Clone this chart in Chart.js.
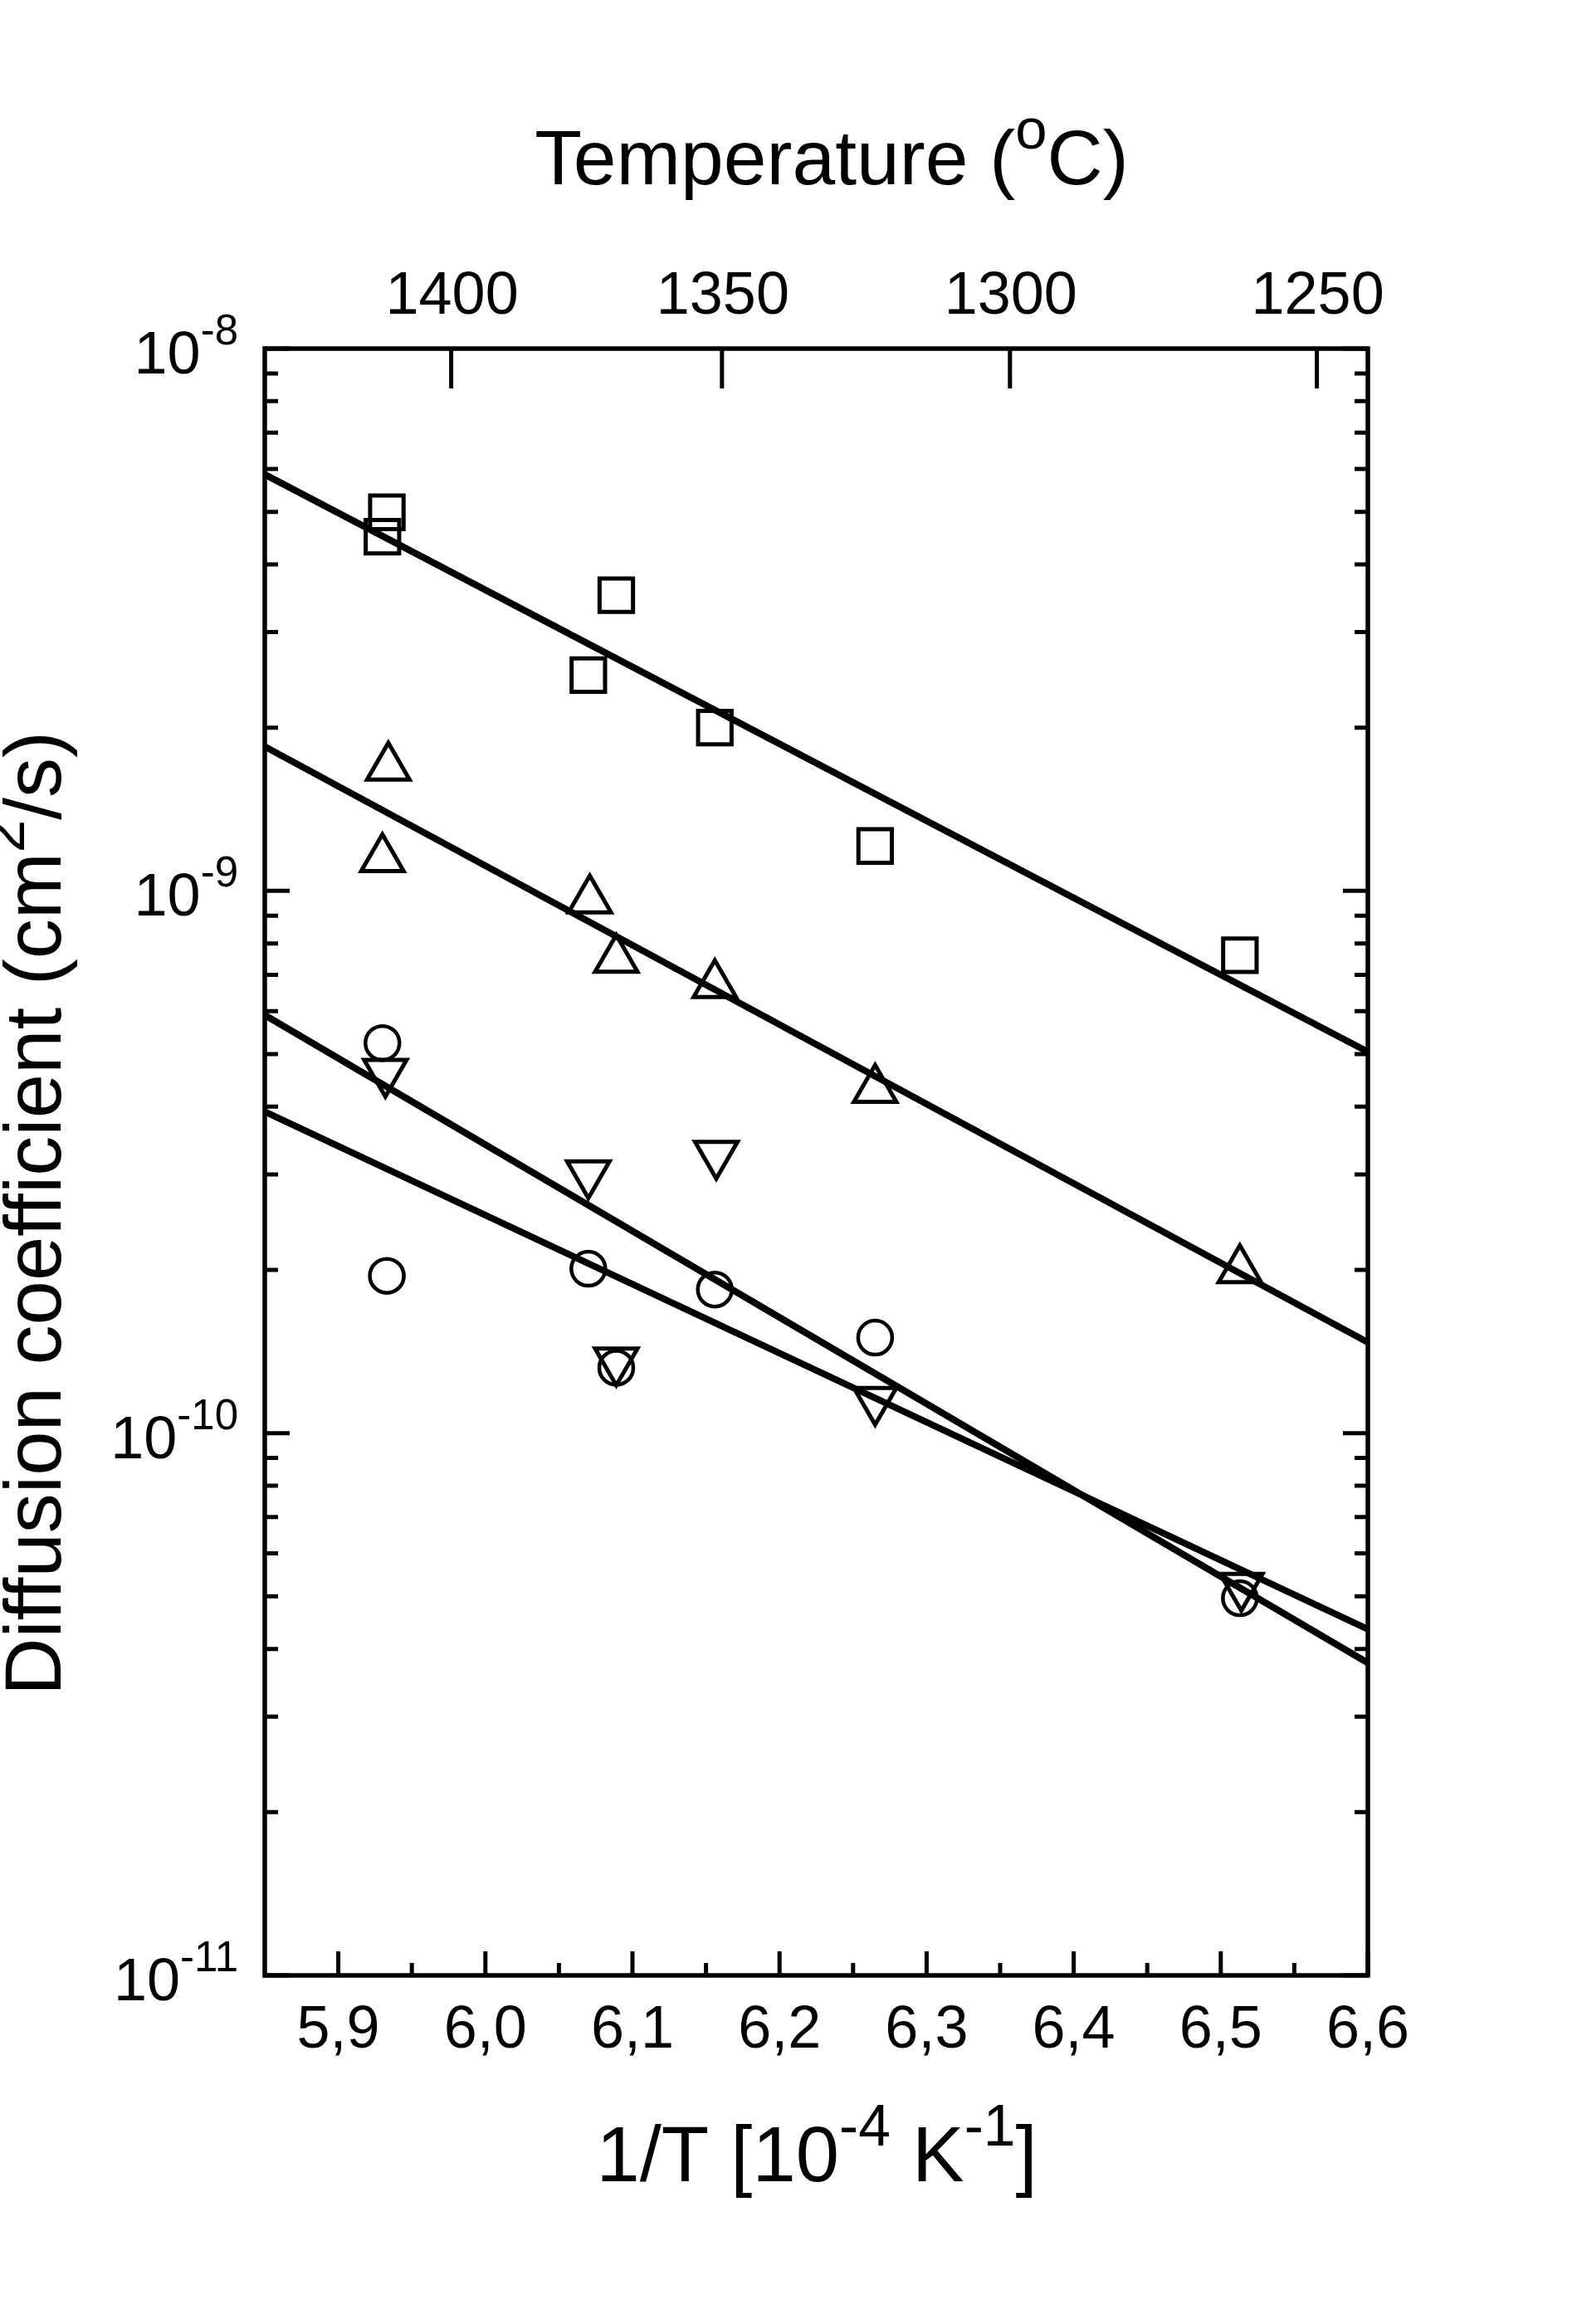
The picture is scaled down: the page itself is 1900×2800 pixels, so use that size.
<!DOCTYPE html>
<html>
<head>
<meta charset="utf-8">
<script src="https://cdn.jsdelivr.net/npm/chart.js@4.4.1/dist/chart.umd.min.js"></script>
<style>
  body { margin: 0; background: #fff; }
  #wrap { width: 1900px; height: 2800px; }
</style>
</head>
<body>
<div id="wrap"><canvas id="graphique-diffusion" width="1900" height="2800"></canvas></div>
<script>
// Points: x = 1/T [10^-4 K^-1], y = D [cm2/s]
const squaresX = [5.933, 5.930, 6.070, 6.089, 6.156, 6.265, 6.513];
const squaresY = [4.99e-9, 4.50e-9, 2.50e-9, 3.51e-9, 2.00e-9, 1.21e-9, 7.61e-10];

const upTriX = [5.934, 5.930, 6.071, 6.089, 6.156, 6.265, 6.513];
const upTriY = [1.69e-9, 1.146e-9, 9.61e-10, 7.47e-10, 6.71e-10, 4.30e-10, 2.00e-10];

const circlesX = [5.930, 5.933, 6.070, 6.089, 6.156, 6.265, 6.513];
const circlesY = [5.24e-10, 1.95e-10, 2.01e-10, 1.32e-10, 1.84e-10, 1.50e-10, 4.96e-11];

const downTriX = [5.932, 6.070, 6.089, 6.157, 6.265, 6.514];
const downTriY = [4.63e-10, 3.01e-10, 1.36e-10, 3.27e-10, 1.15e-10, 5.22e-11];

// Fitted lines, value at each end of the x axis
const fitX = [5.85, 6.6];
const fitSquares = [5.86e-9, 5.05e-10];
const fitUpTri = [1.845e-9, 1.47e-10];
const fitDownTri = [5.90e-10, 3.77e-11];
const fitCircles = [3.915e-10, 4.35e-11];

// Axis ticks
const xMajor = [5.9, 6.0, 6.1, 6.2, 6.3, 6.4, 6.5, 6.6];
const xMajorLabels = ["5,9", "6,0", "6,1", "6,2", "6,3", "6,4", "6,5", "6,6"];
const xMinor = [5.95, 6.05, 6.15, 6.25, 6.35, 6.45, 6.55];
const topTemps = [1400, 1350, 1300, 1250];
const yExponents = [-8, -9, -10, -11];

const FONT = "'Liberation Sans', Arial, sans-serif";

function points(xs, ys) {
  const out = [];
  for (let i = 0; i < xs.length; i++) {
    out.push({ x: xs[i], y: ys[i] });
  }
  return out;
}

// draw a text made of normal and superscript pieces, centred on x
function drawRich(ctx, parts, x, y, size) {
  let total = 0;
  for (const p of parts) {
    ctx.font = (p[1] ? size * 0.74 : size) + "px " + FONT;
    total += ctx.measureText(p[0]).width;
  }
  let cx = x - total / 2;
  ctx.textAlign = "left";
  ctx.textBaseline = "alphabetic";
  for (const p of parts) {
    ctx.font = (p[1] ? size * 0.74 : size) + "px " + FONT;
    ctx.fillText(p[0], cx, p[1] ? y - size * 0.46 : y);
    cx += ctx.measureText(p[0]).width;
  }
}

const frameAxes = {
  id: "frameAxes",
  afterDatasetsDraw(chart) {
    const ctx = chart.ctx;
    const xs = chart.scales.x;
    const ys = chart.scales.y;
    const a = chart.chartArea;
    ctx.save();
    ctx.strokeStyle = "#000";
    ctx.fillStyle = "#000";
    ctx.lineWidth = 5.5;
    ctx.strokeRect(a.left, a.top, a.right - a.left, a.bottom - a.top);

    // bottom ticks, inward
    ctx.lineWidth = 5;
    ctx.beginPath();
    for (const v of xMajor) {
      const px = xs.getPixelForValue(v);
      ctx.moveTo(px, a.bottom);
      ctx.lineTo(px, a.bottom - 29);
    }
    for (const v of xMinor) {
      const px = xs.getPixelForValue(v);
      ctx.moveTo(px, a.bottom);
      ctx.lineTo(px, a.bottom - 15);
    }
    // top ticks: temperature in degC
    for (const t of topTemps) {
      const px = xs.getPixelForValue(1e4 / (t + 273.15));
      ctx.moveTo(px, a.top);
      ctx.lineTo(px, a.top + 48);
    }
    // left and right ticks on the log axis
    for (const e of yExponents) {
      for (let m = 1; m <= 9; m++) {
        const v = m * Math.pow(10, e);
        if (v > 1.0001e-8) continue;
        const py = ys.getPixelForValue(v);
        const len = m === 1 ? 30 : 16;
        ctx.moveTo(a.left, py);
        ctx.lineTo(a.left + len, py);
        ctx.moveTo(a.right, py);
        ctx.lineTo(a.right - len, py);
      }
    }
    ctx.stroke();

    // bottom labels
    ctx.font = "72px " + FONT;
    ctx.textAlign = "center";
    ctx.textBaseline = "alphabetic";
    for (let i = 0; i < xMajor.length; i++) {
      ctx.fillText(xMajorLabels[i], xs.getPixelForValue(xMajor[i]), 2467);
    }
    // top labels
    for (const t of topTemps) {
      ctx.fillText(String(t), xs.getPixelForValue(1e4 / (t + 273.15)) + 1, 378);
    }
    // left labels 10^n
    for (const e of yExponents) {
      const py = ys.getPixelForValue(Math.pow(10, e));
      ctx.font = "72px " + FONT;
      const wBase = ctx.measureText("10").width;
      ctx.font = "51px " + FONT;
      const wExp = ctx.measureText("-" + Math.abs(e)).width;
      const x0 = 287 - wBase - wExp;
      ctx.textAlign = "left";
      ctx.font = "72px " + FONT;
      ctx.fillText("10", x0, py + 30);
      ctx.font = "51px " + FONT;
      ctx.fillText("-" + Math.abs(e), x0 + wBase, py - 5);
    }

    // axis titles
    drawRich(ctx, [["Temperature (", false], ["o", true], ["C)", false]], 1002, 222, 93);
    drawRich(ctx, [["1/T [10", false], ["-4", true], [" K", false], ["-1", true], ["]", false]], 984, 2628, 94);
    ctx.save();
    ctx.translate(73, 1462);
    ctx.rotate(-Math.PI / 2);
    drawRich(ctx, [["Diffusion coefficient (cm", false], ["2", true], ["/s)", false]], 0, 0, 96);
    ctx.restore();
    ctx.restore();
  }
};

const markerStyle = {
  showLine: false,
  borderColor: "#000",
  backgroundColor: "rgba(0,0,0,0)",
  pointBackgroundColor: "rgba(0,0,0,0)",
  pointBorderColor: "#000",
  order: 2
};

function fitLine(ys) {
  return {
    data: points(fitX, ys),
    showLine: true,
    borderColor: "#000",
    borderWidth: 8,
    pointRadius: 0,
    fill: false,
    order: 1
  };
}

const config = {
  type: "scatter",
  data: {
    datasets: [
      fitLine(fitSquares),
      fitLine(fitUpTri),
      fitLine(fitDownTri),
      fitLine(fitCircles),
      Object.assign({ data: points(squaresX, squaresY), pointStyle: "rect", pointRadius: 28.5, pointBorderWidth: 5 }, markerStyle),
      Object.assign({ data: points(upTriX, upTriY), pointStyle: "triangle", pointRadius: 29.5, pointBorderWidth: 5 }, markerStyle),
      Object.assign({ data: points(circlesX, circlesY), pointStyle: "circle", pointRadius: 20.5, pointBorderWidth: 4.5 }, markerStyle),
      Object.assign({ data: points(downTriX, downTriY), pointStyle: "triangle", pointRotation: 180, pointRadius: 29.5, pointBorderWidth: 5 }, markerStyle)
    ]
  },
  options: {
    responsive: false,
    animation: false,
    layout: { padding: { left: 319, top: 420, right: 252, bottom: 420 } },
    scales: {
      x: { type: "linear", min: 5.85, max: 6.6, display: false },
      y: { type: "logarithmic", min: 1e-11, max: 1e-8, display: false }
    },
    plugins: {
      legend: { display: false },
      tooltip: { enabled: false }
    }
  },
  plugins: [frameAxes]
};

new Chart(document.querySelector("#graphique-diffusion"), config);
</script>
</body>
</html>
